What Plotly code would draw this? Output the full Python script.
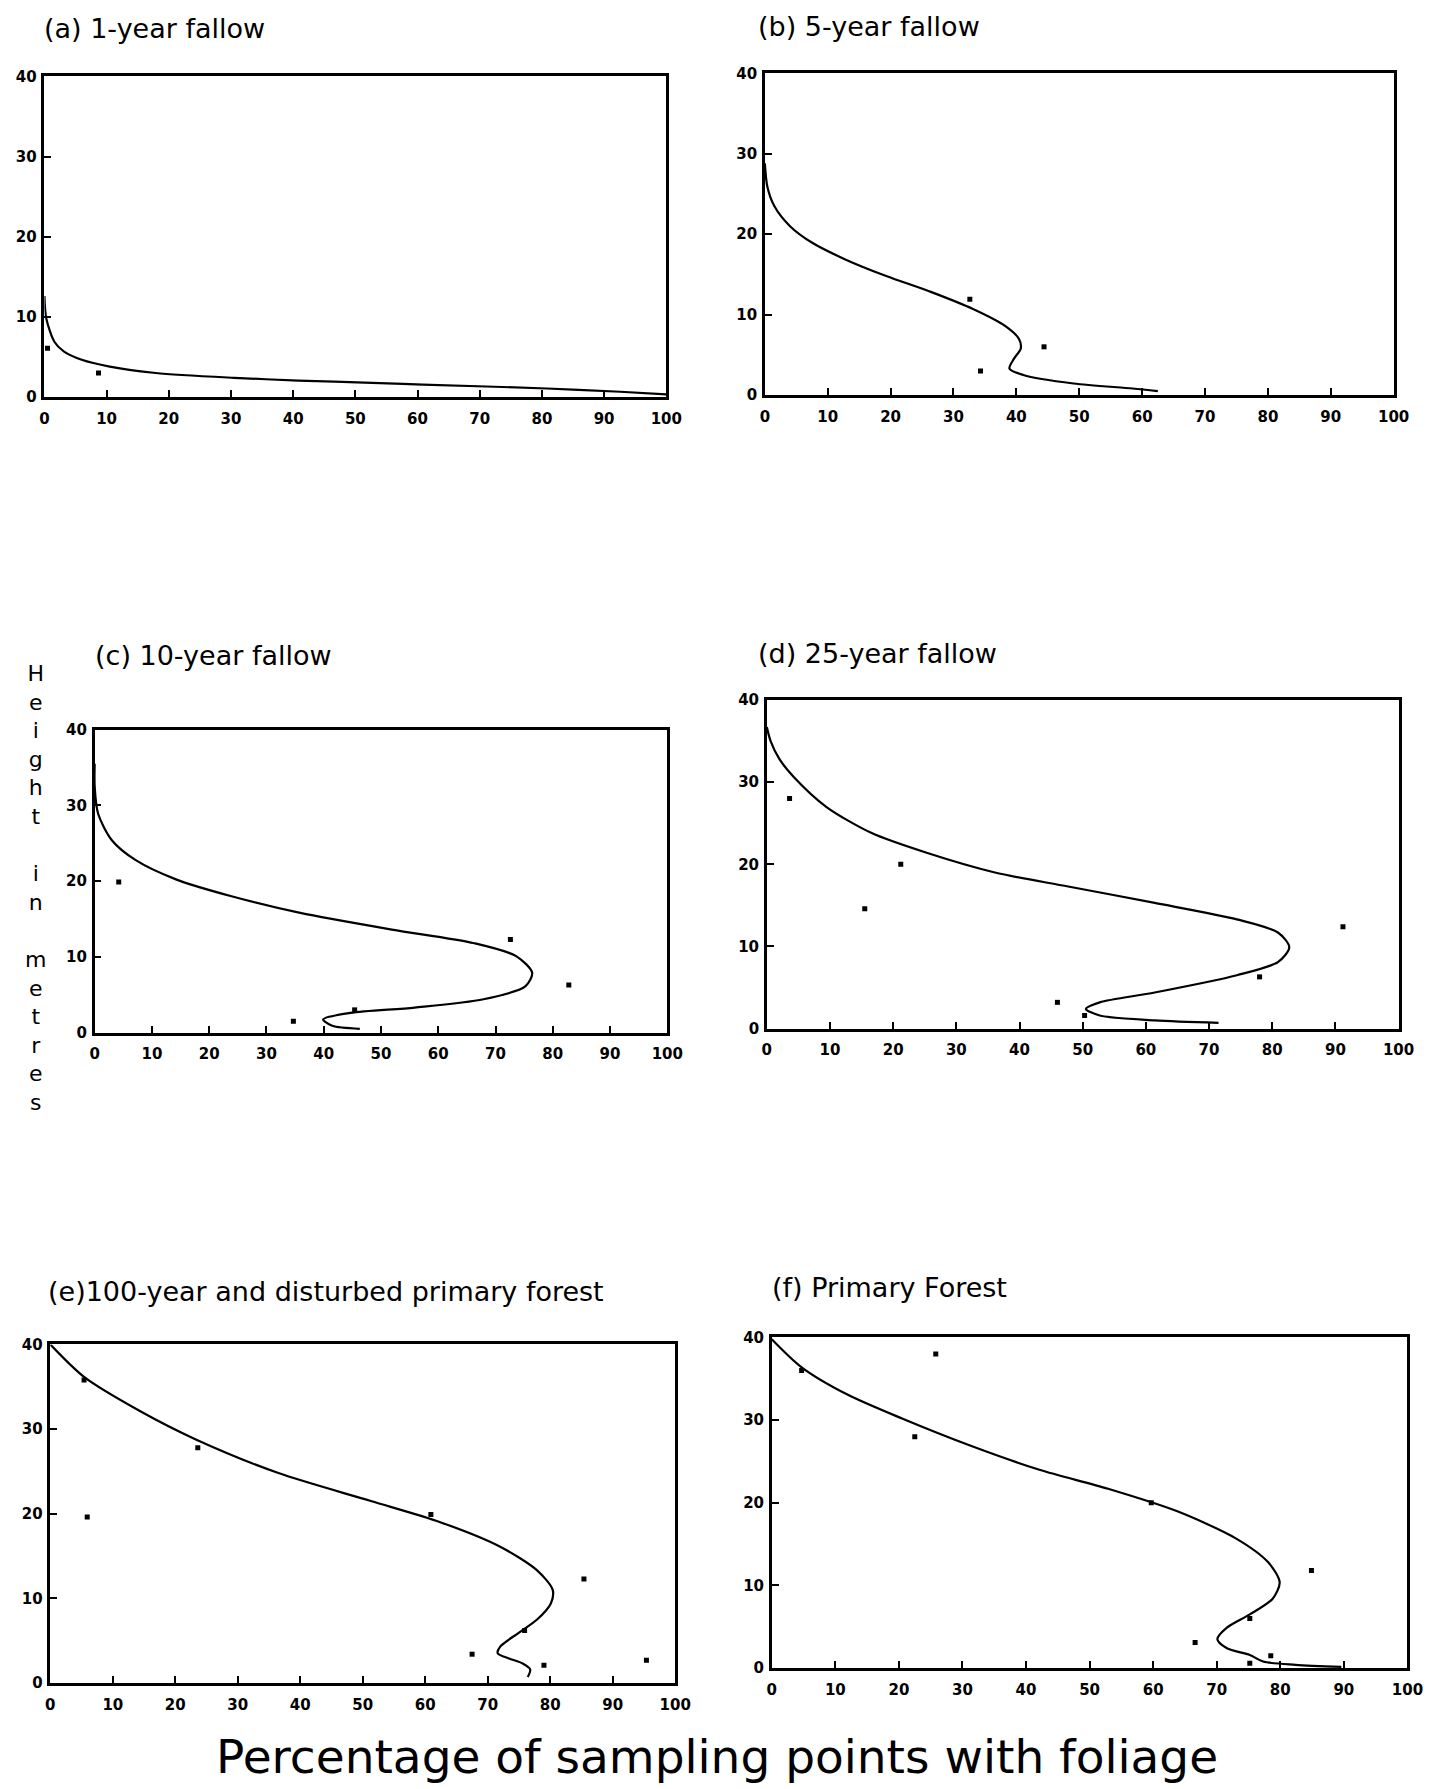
import plotly.graph_objects as go

# ---------------- data (x = % of sampling points with foliage, y = height m) -------------
titles = ["(a) 1-year fallow", "(b) 5-year fallow", "(c) 10-year fallow",
          "(d) 25-year fallow", "(e)100-year and disturbed primary forest",
          "(f) Primary Forest"]

a_curve_x = [0, 0.3, 1.6, 3.1, 6.0, 10.5, 17.9, 30.5, 40.8, 52.7, 60.8, 80.8, 92.6, 100]
a_curve_y = [12.6, 9.8, 6.9, 5.7, 4.65, 3.8, 3.0, 2.4, 2.06, 1.77, 1.56, 1.07, 0.66, 0.33]
a_pts_x = [0.5, 8.7]
a_pts_y = [6.1, 3.0]

b_curve_x = [0, 0.4, 1.5, 4, 7.6, 12.7, 19.3, 26.5, 33.1, 38.2, 40.4, 40.7, 39.6, 38.9, 41.1, 49.1, 58.5, 62.5]
b_curve_y = [28.8, 25.9, 23.5, 21, 18.9, 16.9, 14.8, 12.8, 10.7, 8.6, 7.0, 5.8, 4.5, 3.3, 2.5, 1.44, 0.82, 0.5]
b_pts_x = [32.6, 44.4, 34.3]
b_pts_y = [11.9, 6.0, 3.0]

c_curve_x = [0, 0, 0.6, 3.0, 7.1, 14.3, 23.9, 35.9, 51.9, 66.3, 73.6, 76.4, 75.2, 67.9, 55.9, 44.7, 39.9, 41.5, 46.3]
c_curve_y = [35.5, 32.5, 28.9, 25.4, 22.8, 20.2, 18.0, 15.8, 13.6, 11.8, 10.1, 7.9, 6.1, 4.4, 3.3, 2.6, 1.75, 0.9, 0.5]
c_pts_x = [4.2, 72.6, 82.8, 34.7, 45.4]
c_pts_y = [19.9, 12.3, 6.3, 1.5, 3.0]

d_curve_x = [0, 0.6, 2.0, 4.3, 9.4, 16.6, 25.3, 36.1, 47.7, 61.4, 74.4, 80.9, 82.7, 80.9, 74.4, 61.4, 52.7, 50.5, 52.7, 61.4, 71.5]
d_curve_y = [36.7, 35.0, 32.8, 30.6, 27.0, 23.8, 21.4, 19.0, 17.3, 15.3, 13.3, 11.7, 9.9, 8.1, 6.5, 4.4, 3.2, 2.4, 1.6, 1.0, 0.7]
d_pts_x = [3.6, 21.2, 15.5, 91.2, 78.0, 46.0, 50.3]
d_pts_y = [28.0, 20.0, 14.6, 12.4, 6.3, 3.2, 1.6]

e_curve_x = [0, 5.5, 14.4, 23.2, 36.5, 51.3, 62.4, 72.0, 77.9, 80.4, 80.1, 77.9, 74.9, 72.0, 71.6, 73.4, 75.6, 76.8, 76.4]
e_curve_y = [40, 36.1, 32.1, 28.8, 24.8, 21.5, 19.0, 16.1, 13.3, 11.0, 9.4, 7.5, 5.9, 4.3, 3.5, 2.9, 2.3, 1.6, 0.7]
e_pts_x = [5.4, 23.6, 5.9, 60.9, 85.4, 75.9, 67.5, 79.0, 95.4]
e_pts_y = [35.8, 27.8, 19.6, 19.9, 12.3, 6.2, 3.4, 2.1, 2.7]

f_curve_x = [0, 4.7, 11.9, 20.5, 31.3, 42.1, 52.9, 63.7, 73.0, 78.1, 79.9, 78.8, 75.2, 71.6, 70.1, 71.6, 75.2, 77.3, 82.4, 89.6]
f_curve_y = [39.8, 36.4, 33.1, 30.2, 26.9, 24.0, 21.7, 19.0, 15.7, 12.8, 10.4, 8.4, 6.5, 4.9, 3.5, 2.4, 1.6, 0.8, 0.4, 0.15]
f_pts_x = [4.7, 25.8, 22.5, 59.7, 84.9, 75.2, 66.6, 78.5, 75.2]
f_pts_y = [36.0, 38.0, 28.0, 20.0, 11.8, 6.0, 3.1, 1.5, 0.6]

x_ticks = [0, 10, 20, 30, 40, 50, 60, 70, 80, 90, 100]
y_ticks = [0, 10, 20, 30, 40]

curves = [(a_curve_x, a_curve_y, a_pts_x, a_pts_y),
          (b_curve_x, b_curve_y, b_pts_x, b_pts_y),
          (c_curve_x, c_curve_y, c_pts_x, c_pts_y),
          (d_curve_x, d_curve_y, d_pts_x, d_pts_y),
          (e_curve_x, e_curve_y, e_pts_x, e_pts_y),
          (f_curve_x, f_curve_y, f_pts_x, f_pts_y)]

# ---------------- layout geometry (pixels in a 1453 x 1789 page) -----------------
W, H = 1453, 1789
boxes = [  # left, right, top, bottom
    (40, 671, 68, 392),
    (771, 1409, 65, 390),
    (91, 672, 728, 1034),
    (773, 1414, 698, 1030),
    (46, 680, 1349, 1691),
    (778, 1423, 1342, 1676),
]
title_pos = [(38, 20), (762, 18), (89, 653), (762, 651), (42, 1296), (776, 1291)]
FONT = "DejaVu Sans, Liberation Sans, Arial, sans-serif"

fig = go.Figure()
layout = dict(width=W, height=H, margin=dict(l=0, r=0, t=0, b=0),
              paper_bgcolor="white", plot_bgcolor="white", showlegend=False,
              font=dict(family=FONT, color="black"))
annotations = []

for i, ((cx, cy, px, py), (l, r, t, b)) in enumerate(zip(curves, boxes)):
    n = "" if i == 0 else str(i + 1)
    xa, ya = "x" + n, "y" + n
    fig.add_trace(go.Scatter(x=cx, y=cy, mode="lines", xaxis=xa, yaxis=ya,
                             line=dict(color="black", width=2.2, shape="spline", smoothing=0.8),
                             hoverinfo="skip"))
    fig.add_trace(go.Scatter(x=px, y=py, mode="markers", xaxis=xa, yaxis=ya,
                             marker=dict(color="black", size=5, symbol="square"),
                             hoverinfo="skip"))
    axstyle = dict(showgrid=False, zeroline=False, showline=True, linecolor="black",
                   linewidth=2.5, mirror=True, ticks="inside", ticklen=7, tickwidth=2,
                   tickcolor="black",
                   tickfont=dict(family=FONT, size=15, color="black", weight="bold"))
    layout["xaxis" + n] = dict(axstyle, domain=[l / W, r / W], range=[0, 100],
                               tickvals=x_ticks, ticktext=[str(v) for v in x_ticks],
                               anchor=ya, ticklabelstandoff=6)
    layout["yaxis" + n] = dict(axstyle, domain=[1 - b / H, 1 - t / H], range=[0, 40],
                               tickvals=y_ticks, ticktext=[str(v) for v in y_ticks],
                               anchor=xa, ticklabelstandoff=2)
    tx, ty = title_pos[i]
    annotations.append(dict(text=titles[i], x=tx / W, y=1 - ty / H, xref="paper", yref="paper",
                            xanchor="left", yanchor="middle", showarrow=False,
                            font=dict(size=27, family=FONT)))

ylabel = "<br>".join(list("Height")) + "<br> <br>" + "<br>".join(list("in")) + "<br> <br>" + "<br>".join(list("metres"))
annotations.append(dict(text=ylabel, x=31 / W, y=1 - 888 / H, xref="paper", yref="paper",
                        xanchor="center", yanchor="middle", showarrow=False, align="center",
                        font=dict(size=22, family=FONT)))
annotations.append(dict(text="Percentage of sampling points with foliage", x=722 / W, y=1 - 1765 / H,
                        xref="paper", yref="paper", xanchor="center", yanchor="middle",
                        showarrow=False,
                        font=dict(size=47, family=FONT)))
layout["annotations"] = annotations
fig.update_layout(**layout)
fig.write_html("out.html")
